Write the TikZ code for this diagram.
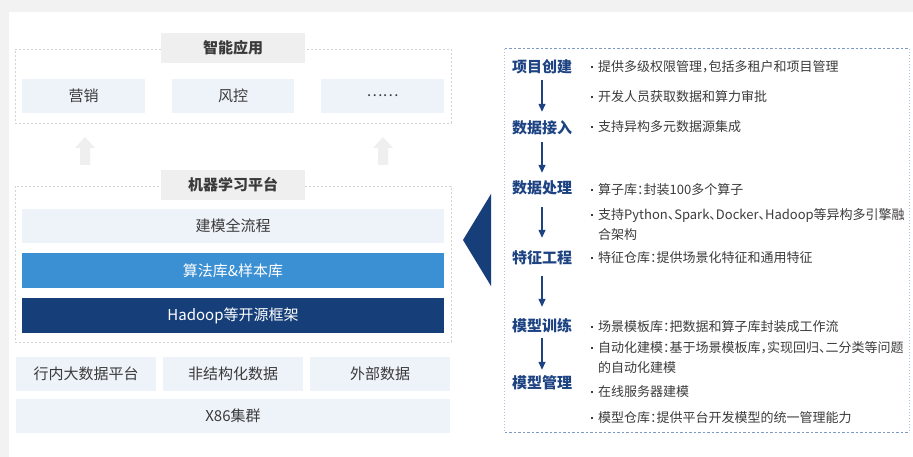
\documentclass[tikz,border=0pt]{standalone}
\usepackage{fontspec}
\setmainfont{Noto Sans CJK SC}
% proportional (half-width) CJK punctuation for the detail lines
\newfontfamily\itemfont{Noto Sans CJK SC}[RawFeature=+halt]
\usetikzlibrary{arrows.meta}

\definecolor{pagegray}{HTML}{F2F2F2}
\definecolor{titlegray}{HTML}{EFEFEF}
\definecolor{paleblue}{HTML}{EEF3FA}
\definecolor{midblue}{HTML}{3B8FD3}
\definecolor{navy}{HTML}{163E79}
\definecolor{stagenavy}{HTML}{1D4383}
\definecolor{dashgray}{HTML}{D2D2D2}
\definecolor{panelblue}{HTML}{7E99C6}
\definecolor{panelside}{HTML}{AEC0DA}
\definecolor{boxtext}{HTML}{3A3A3A}
\definecolor{itemtext}{HTML}{3C3C3C}
\definecolor{uparrow}{HTML}{EFEFEF}

% small square bullet and the matching hanging indent
\newcommand\bdot{\makebox[7pt][l]{\raisebox{3.6pt}{\rule{2.1pt}{2.1pt}}}}
\newcommand\bindent{\hspace*{7pt}}

\tikzset{
  group/.style={draw=dashgray, dash pattern=on 2pt off 2pt, line width=0.8pt,
    minimum width=436pt, inner sep=0pt},
  grouptitle/.style={fill=titlegray, minimum width=144pt, minimum height=30pt,
    inner sep=0pt, text=boxtext, font=\fontsize{15}{18}\selectfont\bfseries},
  cell/.style={fill=paleblue, minimum height=34pt, inner sep=0pt,
    text=boxtext, font=\fontsize{15}{18}\selectfont},
  stage/.style={minimum height=24pt, inner sep=0pt, text=stagenavy,
    font=\fontsize{15}{18}\selectfont\bfseries},
  item/.style={anchor=west, inner sep=0pt, align=left, text=itemtext,
    font=\itemfont\fontsize{13}{20}\selectfont},
  flowarrow/.style={draw=stagenavy, line width=1.3pt,
    -{Triangle[length=8pt,width=7pt]}},
}

\begin{document}
\begin{tikzpicture}[x=1pt,y=-1pt]
\useasboundingbox (0,0) rectangle (913,457);
\fill[pagegray] (0,0) rectangle (913,457);
\fill[white] (9,12) rectangle (913,457);

% ---------- application layer ----------
\node[group, minimum height=74pt] (appgroup) at (233,86) {};
\node[grouptitle] (apptitle) at (233,48) {智能应用};
\node[cell, minimum width=123pt] (marketing) at (83.5,96) {营销};
\node[cell, minimum width=122pt] (risk) at (233,96) {风控};
\node[cell, minimum width=123pt] (moreapps) at (382.5,96) {……};

% block arrows between the layers
\fill[uparrow] (75,148) -- (85,137) -- (95,148) -- (90,148) -- (90,165)
  -- (80,165) -- (80,148) -- cycle;
\fill[uparrow] (373,148) -- (383,137) -- (393,148) -- (388,148) -- (388,165)
  -- (378,165) -- (378,148) -- cycle;

% ---------- machine learning platform ----------
\node[group, minimum height=156pt] (mlgroup) at (233,264) {};
\node[grouptitle] (mltitle) at (233,185) {机器学习平台};
\node[cell, minimum width=422pt] (fullflow) at (233,226) {建模全流程};
\node[cell, fill=midblue, text=white, minimum width=422pt, minimum height=35pt]
  (algolib) at (233,270.5) {算法库\&样本库};
\node[cell, fill=navy, text=white, minimum width=422pt, minimum height=35pt]
  (hadoop) at (233,315.5) {Hadoop等开源框架};

% ---------- data sources ----------
\node[cell, minimum width=140pt] (bankdata) at (86,374) {行内大数据平台};
\node[cell, minimum width=140pt] (unstruct) at (233,374) {非结构化数据};
\node[cell, minimum width=140pt] (extdata) at (380,374) {外部数据};
\node[cell, minimum width=434pt] (x86) at (233,416) {X86集群};

% pointer towards the detail panel
\fill[navy] (491,194) -- (463,240) -- (491,286) -- cycle;

% ---------- detail panel ----------
\node[minimum width=404pt, minimum height=383pt, inner sep=0pt] (panel) at (707,240.5) {};
\draw[panelblue, dash pattern=on 2.5pt off 2pt, line width=0.9pt]
  (panel.north west) -- (panel.north east);
\draw[panelblue, dash pattern=on 2.5pt off 2pt, line width=0.9pt]
  (panel.south west) -- (panel.south east);
\draw[panelside, dash pattern=on 1.5pt off 1.5pt, line width=1.2pt]
  (panel.north west) -- (panel.south west);
\draw[panelside, dash pattern=on 1.5pt off 1.5pt, line width=1.2pt]
  (panel.north east) -- (panel.south east);

\node[stage] (create) at (542,67) {项目创建};
\node[stage] (ingest) at (542,128) {数据接入};
\node[stage] (process) at (542,188) {数据处理};
\node[stage] (feature) at (542,258) {特征工程};
\node[stage] (train) at (542,326) {模型训练};
\node[stage] (manage) at (542,383) {模型管理};

\draw[flowarrow, shorten <=1pt, shorten >=4pt] (create) -- (ingest);
\draw[flowarrow, shorten <=2pt, shorten >=3pt] (ingest) -- (process);
\draw[flowarrow, shorten <=7pt, shorten >=8pt] (process) -- (feature);
\draw[flowarrow, shorten <=6pt, shorten >=7pt] (feature) -- (train);
\draw[flowarrow, shorten <=0pt, shorten >=1pt] (train) -- (manage);

\node[item] (i1) at (591,67) {\bdot 提供多级权限管理，包括多租户和项目管理};
\node[item] (i2) at (591,97) {\bdot 开发人员获取数据和算力审批};
\node[item] (i3) at (591,127) {\bdot 支持异构多元数据源集成};
\node[item] (i4) at (591,190) {\bdot 算子库：封装100多个算子};
\node[item] (i5) at (591,225) {\bdot 支持Python、Spark、Docker、Hadoop等异构多引擎融\\\bindent 合架构};
\node[item] (i6) at (591,258) {\bdot 特征仓库：提供场景化特征和通用特征};
\node[item] (i7) at (591,327) {\bdot 场景模板库：把数据和算子库封装成工作流};
\node[item] (i8) at (591,358) {\bdot 自动化建模：基于场景模板库，实现回归、二分类等问题\\\bindent 的自动化建模};
\node[item] (i9) at (591,392) {\bdot 在线服务器建模};
\node[item] (i10) at (591,418) {\bdot 模型仓库：提供平台开发模型的统一管理能力};
\end{tikzpicture}
\end{document}
